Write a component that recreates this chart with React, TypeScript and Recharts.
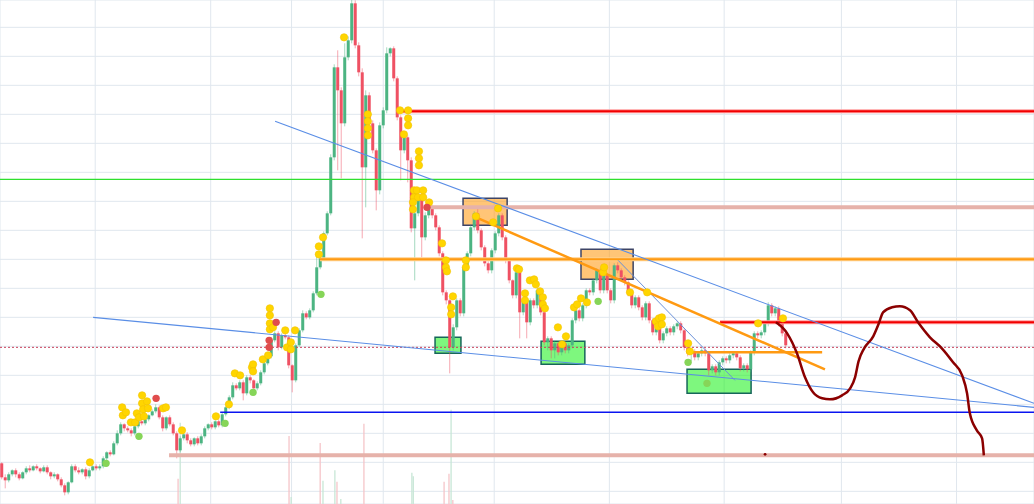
import React from 'react';
import {
  ComposedChart, Bar, XAxis, YAxis, CartesianGrid, Scatter, Line,
  ReferenceLine, ReferenceArea, Cell,
} from 'recharts';

const W = 1034;
const H = 504;
const X_MIN = -0.5;
const X_MAX = 294.93;
const Y_MIN = -12.67;
const Y_MAX = 491.33;

const PRICE_TICKS = [0, 29, 58, 87, 116, 145, 174, 203, 232, 261, 290, 319, 348, 377, 406, 435, 464];
const MONTH_TICKS = [26.7, 59.7, 82.8, 109.0, 140.7, 173.6, 206.4, 239.9, 272.8];

const FIRST_OPEN = 28;
const CLOSES = [
  14, 11, 17, 21, 17, 13, 19, 23, 21, 25,
  23, 20, 24, 19, 15, 17, 12, 6, -1, 9,
  25, 21, 19, 22, 15, 21, 25, 23, 25, 33,
  39, 37, 48, 58, 67, 63, 61, 58, 65, 70,
  68, 72, 76, 80, 84, 74, 63, 74, 67, 58,
  41, 53, 57, 51, 47, 53, 48, 55, 63, 67,
  64, 70, 66, 77, 84, 94, 106, 103, 109, 98,
  114, 111, 103, 108, 119, 128, 135, 151, 158, 144,
  156, 154, 126, 111, 146, 161, 178, 174, 181, 198,
  224, 233, 258, 278, 334, 424, 401, 368, 434, 451,
  488, 446, 419, 324, 396, 368, 341, 301, 366, 381,
  438, 443, 413, 374, 341, 354, 331, 263, 278, 296,
  254, 276, 284, 276, 264, 238, 199, 191, 144, 164,
  191, 178, 224, 238, 264, 278, 261, 244, 228, 221,
  241, 258, 276, 254, 231, 211, 196, 219, 179, 191,
  169, 191, 186, 201, 179, 149, 153, 141, 148, 139,
  148, 141, 146, 171, 181, 173, 186, 201, 199, 211,
  221, 201, 216, 201, 191, 226, 221, 214, 209, 198,
  186, 194, 184, 174, 188, 171, 159, 163, 151, 158,
  163, 159, 165, 168, 161, 144, 138, 140, 134, 138,
  141, 138, 121, 125, 119, 129, 133, 131, 136, 138,
  134, 123, 126, 122, 139, 158, 156, 159, 168, 186,
  178, 183, 168, 158, 146,
];
const UPPER_WICK = [
  1, 3, 2, 1, 2, 2, 1, 2, 3, 1,
  2, 1, 2, 2, 1, 2, 1, 2, 2, 1,
  2, 2, 3, 1, 2, 2, 1, 2, 2, 2,
  1, 2, 2, 3, 2, 1, 2, 2, 1, 2,
  2, 2, 1, 2, 3, 2, 2, 1, 2, 2,
  2, 2, 1, 2, 2, 1, 2, 2, 2, 1,
  2, 1, 2, 2, 1, 2, 3, 2, 2, 2,
  2, 2, 1, 2, 2, 2, 1, 3, 2, 2,
  2, 2, 2, 1, 2, 2, 3, 2, 2, 2,
  15, 3, 2, 2, 3, 3, 17, 3, 14, 4,
  12, 3, 3, 4, 5, 3, 3, 2, 3, 3,
  6, 1, 2, 2, 2, 5, 2, 3, 2, 2,
  2, 3, 2, 2, 2, 2, 2, 2, 2, 3,
  2, 2, 3, 2, 2, 2, 6, 2, 2, 2,
  2, 2, 2, 2, 2, 2, 1, 3, 2, 2,
  2, 2, 2, 2, 2, 1, 2, 2, 2, 2,
  2, 2, 2, 2, 2, 2, 2, 2, 2, 2,
  2, 2, 2, 2, 2, 2, 3, 2, 2, 2,
  2, 2, 2, 2, 2, 2, 2, 2, 2, 2,
  2, 2, 2, 2, 2, 2, 2, 2, 2, 2,
  2, 2, 2, 2, 2, 2, 2, 2, 2, 2,
  2, 2, 2, 2, 2, 2, 2, 2, 2, 3,
  2, 2, 2, 2, 2,
];
const LOWER_WICK = [
  2, 8, 2, 2, 3, 2, 1, 2, 2, 1,
  2, 2, 1, 2, 3, 2, 2, 2, 3, 2,
  1, 2, 2, 2, 3, 2, 1, 2, 2, 2,
  2, 2, 1, 2, 2, 3, 2, 3, 2, 2,
  2, 2, 2, 1, 2, 2, 3, 2, 2, 2,
  8, 2, 2, 3, 2, 2, 2, 2, 2, 2,
  2, 2, 2, 2, 2, 2, 2, 2, 2, 7,
  2, 3, 2, 2, 2, 2, 2, 2, 2, 3,
  2, 2, 3, 12, 2, 2, 2, 2, 2, 2,
  2, 2, 2, 2, 2, 3, 80, 55, 3, 3,
  3, 3, 4, 71, 40, 3, 3, 20, 4, 3,
  3, 3, 3, 3, 30, 3, 22, 4, 52, 3,
  20, 3, 3, 3, 3, 3, 3, 4, 26, 3,
  3, 3, 3, 3, 3, 3, 3, 3, 3, 3,
  3, 3, 3, 3, 3, 3, 3, 3, 26, 3,
  16, 3, 3, 3, 3, 3, 8, 8, 8, 3,
  3, 3, 3, 3, 3, 3, 3, 3, 3, 3,
  3, 3, 3, 3, 3, 3, 3, 3, 3, 3,
  3, 3, 3, 3, 3, 3, 3, 3, 3, 3,
  3, 3, 3, 3, 3, 3, 3, 8, 3, 3,
  3, 3, 5, 3, 3, 3, 3, 3, 3, 3,
  3, 3, 3, 3, 3, 3, 3, 3, 3, 3,
  3, 3, 3, 3, 3,
];

// volume: candle position, volume, up?
const VOLUME_POS = [50.4, 51.0, 82.1, 82.7, 91.0, 91.8, 95.2, 95.8, 96.9, 103.5, 117.2, 117.6, 126.4, 127.8, 128.4, 128.9];
const VOLUME_VAL = [5.0, 16.1, 13.5, 1.4, 12.1, 4.6, 6.7, 4.4, 1.0, 15.9, 6.2, 5.5, 4.4, 6.0, 18.7, 0.8];
const VOLUME_UP = [false, true, false, true, false, true, true, false, true, false, true, true, false, false, true, false];

const YELLOW_DOTS: [number, number][] = [
  [25.2, 29], [34.4, 84], [34.6, 76], [35.5, 79], [36.9, 69], [38.1, 69], [38.6, 78], [39.2, 74],
  [40.1, 96], [40.1, 88], [40.4, 82], [40.6, 75], [41.5, 90], [41.8, 83], [46.1, 83], [46.9, 84],
  [51.5, 61], [61.2, 75], [64.9, 87], [66.6, 118], [68.1, 116], [71.5, 124], [71.8, 127], [71.8, 120],
  [74.6, 132], [76.1, 136], [76.6, 183], [76.6, 176], [76.6, 168], [76.6, 162], [77.5, 164],
  [81.0, 161], [81.5, 144], [82.6, 142], [82.6, 149], [83.8, 161], [90.6, 237], [90.6, 245], [91.8, 254],
  [97.8, 454], [104.6, 377], [104.6, 370], [104.6, 363], [104.6, 356], [113.8, 381], [116.1, 381],
  [116.1, 373], [116.1, 366], [114.9, 357], [119.2, 340], [119.2, 333], [119.2, 326],
  [117.8, 301], [118.6, 301], [120.4, 301], [117.8, 294], [118.9, 294], [120.4, 294], [117.5, 289],
  [117.5, 282], [122.1, 289], [125.8, 248], [126.9, 231], [126.9, 224], [127.2, 220], [128.9, 195],
  [128.4, 184], [128.4, 177], [132.6, 231], [132.6, 224], [135.5, 275], [140.4, 269], [141.8, 283],
  [147.2, 223], [147.8, 222], [149.5, 198], [149.5, 191], [150.9, 211], [152.1, 212], [152.6, 207],
  [153.8, 200], [154.6, 194], [154.6, 187], [155.2, 183], [158.9, 164], [160.1, 147], [161.2, 155],
  [163.5, 184], [164.4, 187], [165.5, 193], [167.2, 189], [171.8, 219], [172.1, 224], [179.5, 199],
  [184.4, 199], [186.9, 170], [187.8, 173], [188.6, 174], [187.5, 165], [188.6, 167], [196.1, 148],
  [196.6, 140], [216.1, 168], [223.2, 173],
];
const GREEN_DOTS: [number, number][] = [
  [29.8, 28], [39.2, 55], [63.8, 68], [71.8, 99], [91.2, 197], [170.4, 190], [196.1, 129], [201.5, 108],
];
const RED_DOTS: [number, number][] = [
  [44.1, 93], [78.4, 169], [76.4, 151], [76.4, 144], [121.5, 284],
];
const MARK_DOTS: [number, number][] = [[218.1, 37]];

const CURVE_X = [221.2, 224.4, 227.2, 229.5, 231.8, 234.4, 236.6, 240.1, 242.4, 243.8, 244.8, 246.4, 249.0, 250.6, 251.8, 254.4, 256.6, 259.5, 261.8, 265.2, 268.6, 271.8, 274.4, 275.8, 276.6, 278.6, 280.1, 280.6];
const CURVE_Y = [169, 158, 138, 114, 99, 93, 92, 96, 103, 114, 130, 143, 155, 168, 179, 184, 185, 181, 169, 154, 143, 129, 116, 98, 78, 61, 53, 36];

// levels
const RED_TOP = { from: 114.6, v: 380 };
const SALMON_TOP = { from: 121.5, v: 284 };
const ORANGE_LEVEL = { from: 90.9, v: 232 };
const RED_LOW = { from: 205.2, v: 169 };
const ORANGE_SHORT = { from: 196.6, to: 234.4, v: 139 };
const DOTTED_LEVEL = 144;
const GREEN_LEVEL = 312;
const BLUE_LEVEL = { from: 62.4, v: 79 };
const SALMON_LOW = { from: 47.8, v: 36 };
const ORANGE_TREND = [{ x: 135.5, y: 274 }, { x: 235.2, y: 122 }];
const BLUE_TREND_1 = [{ x: 78.1, y: 370 }, { x: X_MAX, y: 88 }];
const BLUE_TREND_2 = [{ x: 26.1, y: 174 }, { x: X_MAX, y: 84 }];
const BLUE_TREND_3 = [{ x: 176.1, y: 231 }, { x: 209.5, y: 111 }];

const ORANGE_BOXES = [
  { x1: 131.8, x2: 144.4, y1: 266, y2: 293 },
  { x1: 165.5, x2: 180.4, y1: 212, y2: 242 },
];
const GREEN_BOXES = [
  { x1: 123.8, x2: 131.2, y1: 138, y2: 154 },
  { x1: 154.1, x2: 166.6, y1: 127, y2: 150 },
  { x1: 195.8, x2: 214.1, y1: 98, y2: 122 },
];

const UP = '#4cb482';
const DOWN = '#ef5163';

const candles = CLOSES.map((c, i) => {
  const o = i === 0 ? FIRST_OPEN : CLOSES[i - 1];
  const h = Math.max(o, c) + UPPER_WICK[i];
  const l = Math.min(o, c) - LOWER_WICK[i];
  return { i, o, c, h, l, range: [l, h] };
});
const volume = VOLUME_POS.map((p, k) => ({ i: p, vol: VOLUME_VAL[k], up: VOLUME_UP[k] }));
const toPts = (arr: [number, number][]) => arr.map(([i, v]) => ({ i, v }));
const curve = CURVE_X.map((x, k) => ({ i: x, v: CURVE_Y[k] }));

const CandleShape = (props: any) => {
  const { x, y, width, height, payload } = props;
  if (payload == null || x == null || y == null) return null;
  const { o, c, h, l } = payload;
  const top = Math.min(y, y + height);
  const bottom = Math.max(y, y + height);
  const span = h - l;
  const px = (v: number) => (span === 0 ? top : top + ((h - v) / span) * (bottom - top));
  const cx = x + width / 2;
  const color = c >= o ? UP : DOWN;
  const bt = px(Math.max(o, c));
  const bb = px(Math.min(o, c));
  return (
    <g>
      <line x1={cx} x2={cx} y1={top} y2={bottom} stroke={color} strokeOpacity={0.5} strokeWidth={1} />
      <rect x={cx - 1.5} y={bt} width={3} height={Math.max(1.2, bb - bt)} fill={color} />
    </g>
  );
};

const dotShape = (fill: string, r: number, stroke?: string) => (props: any) => (
  <circle cx={props.cx} cy={props.cy} r={r} fill={fill} stroke={stroke || 'none'} strokeWidth={0.6} />
);

export default function App() {
  return (
    <div style={{ position: 'absolute', left: 0, top: 0, width: W, height: H, background: '#fff', overflow: 'hidden' }}>
      <div style={{ position: 'absolute', left: 0, top: 0 }}>
        <ComposedChart width={W} height={H} data={volume} margin={{ top: 0, right: 0, bottom: 0, left: 0 }}>
          <XAxis type="number" dataKey="i" domain={[X_MIN, X_MAX]} ticks={MONTH_TICKS} hide allowDataOverflow />
          <YAxis yAxisId="p" type="number" domain={[Y_MIN, Y_MAX]} ticks={PRICE_TICKS} hide allowDataOverflow />
          <YAxis yAxisId="v" type="number" domain={[0, 100]} hide allowDataOverflow />
          <CartesianGrid yAxisId="p" stroke="#e0e7ee" strokeWidth={1} />
          <Bar yAxisId="v" dataKey="vol" barSize={2} isAnimationActive={false}>
            {volume.map((d, k) => (
              <Cell key={k} fill={d.up ? '#c6e6d5' : '#f5c3c7'} />
            ))}
          </Bar>
        </ComposedChart>
      </div>
      <div style={{ position: 'absolute', left: 0, top: 0 }}>
        <ComposedChart width={W} height={H} data={candles} margin={{ top: 0, right: 0, bottom: 0, left: 0 }}>
          <XAxis type="number" dataKey="i" domain={[X_MIN, X_MAX]} hide allowDataOverflow />
          <YAxis type="number" domain={[Y_MIN, Y_MAX]} hide allowDataOverflow />
          <ReferenceLine y={GREEN_LEVEL} stroke="#2ee02e" strokeWidth={1.3} />
          <ReferenceLine y={DOTTED_LEVEL} stroke="#c8405a" strokeWidth={1} strokeDasharray="2 2" />
          <ReferenceLine segment={[{ x: SALMON_LOW.from, y: SALMON_LOW.v }, { x: X_MAX, y: SALMON_LOW.v }]} stroke="#e6b2aa" strokeWidth={4} ifOverflow="hidden" />
          <ReferenceLine segment={[{ x: BLUE_LEVEL.from, y: BLUE_LEVEL.v }, { x: X_MAX, y: BLUE_LEVEL.v }]} stroke="#0a14f0" strokeWidth={1.5} ifOverflow="hidden" />
          <ReferenceLine segment={[{ x: SALMON_TOP.from, y: SALMON_TOP.v }, { x: X_MAX, y: SALMON_TOP.v }]} stroke="#e6b2aa" strokeWidth={4} ifOverflow="hidden" />
          <ReferenceLine segment={[{ x: ORANGE_LEVEL.from, y: ORANGE_LEVEL.v }, { x: X_MAX, y: ORANGE_LEVEL.v }]} stroke="#ffcf8a" strokeWidth={4} ifOverflow="hidden" />
          <ReferenceLine segment={[{ x: ORANGE_LEVEL.from, y: ORANGE_LEVEL.v }, { x: X_MAX, y: ORANGE_LEVEL.v }]} stroke="#ff9a12" strokeWidth={2} ifOverflow="hidden" />
          <Bar dataKey="range" shape={<CandleShape />} barSize={3} isAnimationActive={false} />
          <ReferenceLine segment={[{ x: RED_TOP.from, y: RED_TOP.v }, { x: X_MAX, y: RED_TOP.v }]} stroke="#ff9c9c" strokeWidth={4} ifOverflow="hidden" />
          <ReferenceLine segment={[{ x: RED_TOP.from, y: RED_TOP.v }, { x: X_MAX, y: RED_TOP.v }]} stroke="#f20000" strokeWidth={2} ifOverflow="hidden" />
          <ReferenceLine segment={[{ x: RED_LOW.from, y: RED_LOW.v }, { x: X_MAX, y: RED_LOW.v }]} stroke="#ff9c9c" strokeWidth={4} ifOverflow="hidden" />
          <ReferenceLine segment={[{ x: RED_LOW.from, y: RED_LOW.v }, { x: X_MAX, y: RED_LOW.v }]} stroke="#f20000" strokeWidth={2} ifOverflow="hidden" />
          <ReferenceLine segment={[{ x: ORANGE_SHORT.from, y: ORANGE_SHORT.v }, { x: ORANGE_SHORT.to, y: ORANGE_SHORT.v }]} stroke="#ff9a12" strokeWidth={2.5} ifOverflow="hidden" />
          <ReferenceLine segment={BLUE_TREND_1} stroke="#5a8ee6" strokeWidth={1.1} ifOverflow="hidden" />
          <ReferenceLine segment={BLUE_TREND_2} stroke="#5a8ee6" strokeWidth={1.1} ifOverflow="hidden" />
          <ReferenceLine segment={BLUE_TREND_3} stroke="#6a90d8" strokeWidth={1} ifOverflow="hidden" />
          <ReferenceLine segment={ORANGE_TREND} stroke="#ff9a12" strokeWidth={2.5} ifOverflow="hidden" />
          {ORANGE_BOXES.map((b, k) => (
            <ReferenceArea key={'o' + k} x1={b.x1} x2={b.x2} y1={b.y1} y2={b.y2} fill="#ff9f1c" fillOpacity={0.6} stroke="#3d4466" strokeWidth={1.5} strokeOpacity={1} />
          ))}
          {GREEN_BOXES.map((b, k) => (
            <ReferenceArea key={'g' + k} x1={b.x1} x2={b.x2} y1={b.y1} y2={b.y2} fill="#14f014" fillOpacity={0.55} stroke="#16665a" strokeWidth={1.5} strokeOpacity={1} />
          ))}
          <Line data={curve} dataKey="v" type="monotone" stroke="#8b0000" strokeWidth={2.5} dot={false} activeDot={false} isAnimationActive={false} />
          <Scatter data={toPts(YELLOW_DOTS)} dataKey="v" shape={dotShape('#ffd500', 3.7, '#f2c200')} isAnimationActive={false} />
          <Scatter data={toPts(GREEN_DOTS)} dataKey="v" shape={dotShape('#86d558', 3.7)} isAnimationActive={false} />
          <Scatter data={toPts(RED_DOTS)} dataKey="v" shape={dotShape('#e04c4c', 3.7)} isAnimationActive={false} />
          <Scatter data={toPts(MARK_DOTS)} dataKey="v" shape={dotShape('#8b0000', 1.4)} isAnimationActive={false} />
        </ComposedChart>
      </div>
    </div>
  );
}
